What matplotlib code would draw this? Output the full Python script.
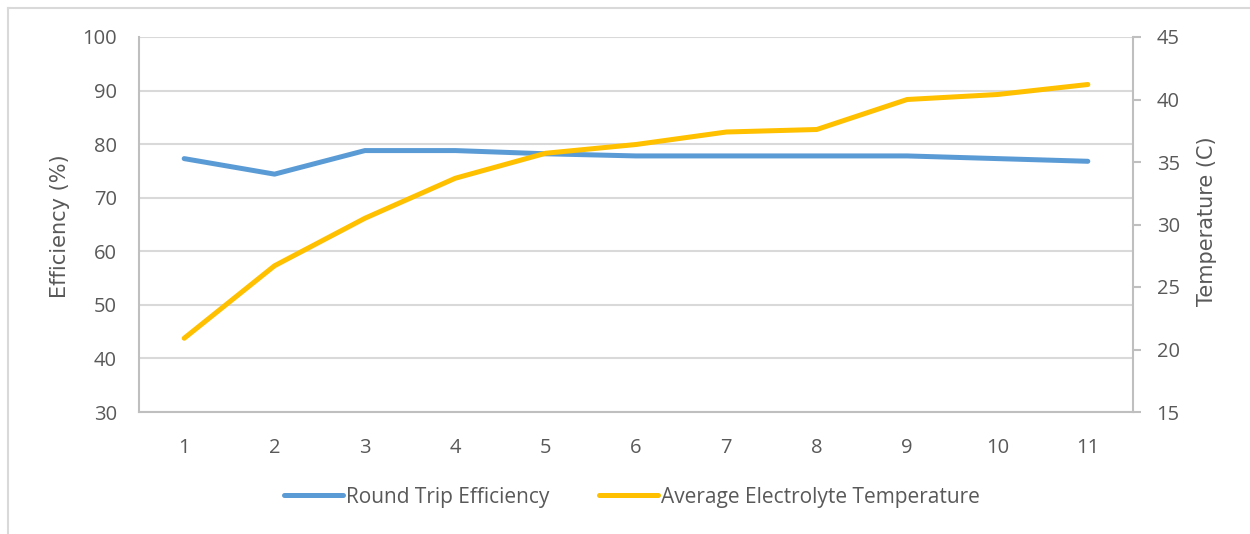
import matplotlib
matplotlib.use("Agg")
import matplotlib.pyplot as plt
from matplotlib.lines import Line2D

plt.rcParams['font.family'] = ['Open Sans', 'DejaVu Sans']

# Data
cycles = [1, 2, 3, 4, 5, 6, 7, 8, 9, 10, 11]
efficiency = [77.3, 74.4, 78.8, 78.8, 78.2, 77.8, 77.8, 77.8, 77.8, 77.3, 76.8]
temperature = [20.9, 26.7, 30.5, 33.7, 35.7, 36.4, 37.4, 37.6, 40.0, 40.4, 41.2]
eff_ticks = [30, 40, 50, 60, 70, 80, 90, 100]
temp_ticks = [15, 20, 25, 30, 35, 40, 45]

TEXT = '#595959'
GRID = '#D9D9D9'
AXIS = '#BFBFBF'
BLUE = '#5B9BD5'
GOLD = '#FFC000'

fig = plt.figure(figsize=(12.5, 5.34), dpi=100)
W, H = 1250, 534
left, right, top, bottom = 139, 1133, 37, 412
ax = fig.add_axes([left / W, 1 - bottom / H, (right - left) / W, (bottom - top) / H])
ax2 = ax.twinx()

l1, = ax.plot(cycles, efficiency, color=BLUE, lw=3.6, solid_capstyle='round',
              solid_joinstyle='round', label='Round Trip Efficiency')
l2, = ax2.plot(cycles, temperature, color=GOLD, lw=3.6, solid_capstyle='round',
               solid_joinstyle='round', label='Average Electrolyte Temperature')

ax.set_xlim(0.5, 11.5)
ax.set_xticks(cycles)
ax.set_xticklabels([str(c) for c in cycles])
ax.set_ylim(eff_ticks[0], eff_ticks[-1])
ax.set_yticks(eff_ticks)
ax2.set_ylim(temp_ticks[0], temp_ticks[-1])
ax2.set_yticks(temp_ticks)

ax.yaxis.grid(True, color=GRID, lw=1.5)
ax.set_axisbelow(True)

for a in (ax, ax2):
    for s in a.spines.values():
        s.set_visible(False)
ax.spines['left'].set_visible(True)
ax.spines['left'].set_color(AXIS)
ax.spines['left'].set_linewidth(1.5)
ax.spines['bottom'].set_visible(True)
ax.spines['bottom'].set_color(AXIS)
ax.spines['bottom'].set_linewidth(1.5)
ax2.spines['right'].set_visible(True)
ax2.spines['right'].set_color(AXIS)
ax2.spines['right'].set_linewidth(1.5)

ax.tick_params(axis='y', length=0, pad=16, labelsize=14.5, labelcolor=TEXT)
ax.tick_params(axis='x', length=0, pad=19, labelsize=14.5, labelcolor=TEXT)
ax2.tick_params(axis='y', length=6, width=1.5, color=AXIS, direction='out',
                pad=11, labelsize=14.5, labelcolor=TEXT)

title_font = dict(fontsize=15, color=TEXT, family=['DejaVu Sans'])
ax.set_ylabel('Efficiency (%)', **title_font)
ax.yaxis.set_label_coords(-0.0795, 0.496)
ax.yaxis.label.set_va('center')
ax2.set_ylabel('Temperature (C)', **title_font)
ax2.yaxis.set_label_coords(1.0744, 0.508)
ax2.yaxis.label.set_va('center')

fig.legend(handles=[l1, l2], loc='center', bbox_to_anchor=(632 / W, 1 - 497 / H),
           ncol=2, frameon=False, fontsize=15, labelcolor=TEXT,
           handlelength=2.8, handletextpad=0.15, columnspacing=2.4)

# light chart-area border along the top and left edges
fig.add_artist(Line2D([8 / W, 8 / W], [0, 1 - 8 / H], transform=fig.transFigure,
                      color=GRID, lw=1.5))
fig.add_artist(Line2D([8 / W, 1], [1 - 8 / H, 1 - 8 / H], transform=fig.transFigure,
                      color=GRID, lw=1.5))

fig.savefig('out.png', dpi=100, facecolor='white')
